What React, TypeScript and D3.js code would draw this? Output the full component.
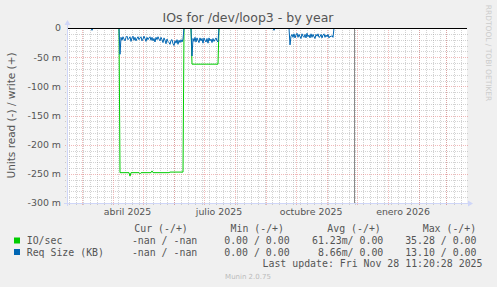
import React from "react";
import * as d3 from "d3";

const chartTitle = "IOs for /dev/loop3 - by year";
const yAxisTitle = "Units read (-) / write (+)";
const yTickValues = [0, -50, -100, -150, -200, -250, -300];
const monthLabelStarts = ["2025-04-01", "2025-07-01", "2025-10-01", "2026-01-01"];
const monthLabelTexts = ["abril 2025", "julio 2025", "octubre 2025", "enero 2026"];
const domainStart = "2025-02-14T12:00:00Z";
const domainEnd = "2026-03-21T12:00:00Z";
const nowMarker = "2025-11-28T11:20:28Z";

// IO/sec (read, shown negative), daily values in milli-units
const ioSegStarts = ["2025-04-08", "2025-06-19"];
const ioSegs = [
  [
    -248, -248, -248, -248, -248, -248, -248, -248, -248, -248,
    -254, -248, -248, -248, -248, -248, -248, -248, -248, -248,
    -250, -248, -248, -248, -248, -248, -248, -248, -248, -248,
    -248, -248, -245, -248, -248, -248, -248, -248, -248, -248,
    -248, -248, -248, -248, -248, -248, -248, -248, -248, -248,
    -247, -247, -247, -247, -247, -247, -247, -247, -247, -247,
    -247, -247, -247, -247,
  ],
  [
    -62, -62, -62, -62, -62, -62, -62, -62, -62, -62,
    -62, -62, -62, -62, -62, -62, -62, -62, -62, -62,
    -62, -62, -62, -62, -62, -62, -62,
  ],
];

// Req Size (KB) (read, shown negative), daily values in milli-units
const reqSegStarts = ["2025-03-11", "2025-04-08", "2025-06-19", "2025-09-09", "2025-09-25"];
const reqSegs = [
  [-4],
  [
    -45, -16, -21, -15, -19, -22, -16, -14, -20, -18,
    -15, -23, -17, -14, -21, -16, -22, -18, -15, -20,
    -17, -15, -22, -19, -14, -18, -23, -16, -20, -17,
    -15, -21, -16, -22, -18, -24, -16, -20, -15, -19,
    -22, -16, -20, -25, -17, -21, -27, -19, -23, -25,
    -28, -21, -20, -27, -30, -22, -26, -20, -28, -21,
    -25, -20, -24, -19,
  ],
  [
    -48, -18, -23, -16, -24, -17, -21, -25, -17, -22,
    -18, -26, -17, -21, -24, -18, -26, -17, -22, -19,
    -25, -18, -23, -20, -17, -22, -24,
  ],
  [-4],
  [
    -29, -14, -11, -16, -10, -17, -12, -9, -16, -11,
    -15, -18, -10, -14, -16, -11, -17, -9, -15, -12,
    -17, -10, -16, -11, -15, -18, -11, -14, -10, -16,
    -15, -11, -17, -12, -10, -16, -12, -15, -11, -17,
    -14, -15, -13, -16,
  ],
];

const legendNames = ["IO/sec", "Req Size (KB)"];
const legendHeaders = ["Cur (-/+)", "Min (-/+)", "Avg (-/+)", "Max (-/+)"];
const curVals = ["-nan / -nan", "-nan / -nan"];
const minVals = ["0.00 / 0.00", "0.00 / 0.00"];
const avgVals = ["61.23m/ 0.00", "8.66m/ 0.00"];
const maxVals = ["35.28 / 0.00", "13.10 / 0.00"];
const lastUpdate = "Last update: Fri Nov 28 11:20:28 2025";
const muninVersion = "Munin 2.0.75";
const watermark = "RRDTOOL / TOBI OETIKER";

const COLORS = ["#00CC00", "#0066B3"];
const W = 497, H = 287;
const L = 67, R = 467, T = 28, B = 203;
const DAY = 86400000;

function segPoints(start: string, vals: number[]): [Date, number][] {
  const t0 = new Date(start + "T12:00:00Z").getTime();
  const pts: [Date, number][] = [[new Date(t0 - DAY), 0]];
  vals.forEach((v, i) => pts.push([new Date(t0 + i * DAY), v]));
  pts.push([new Date(t0 + vals.length * DAY), 0]);
  return pts;
}

export default function App() {
  const x = d3.scaleUtc().domain([new Date(domainStart), new Date(domainEnd)]).range([L, R]);
  const y = d3.scaleLinear().domain([-300, 0]).range([B, T]);
  const line = d3.line<[Date, number]>().x((d) => x(d[0])).y((d) => y(d[1]));

  const minorY = d3.range(-300, 0, 10).filter((v) => v % 50 !== 0);
  const majorY = yTickValues.filter((v) => v !== 0);
  const weeks = d3.utcSunday.range(new Date(domainStart), new Date(domainEnd));
  const months = d3.utcMonth.range(new Date(domainStart), new Date(domainEnd));

  const gridMinor = "rgba(140,140,140,0.38)";
  const gridMajor = "rgba(225,100,100,0.45)";
  const axisColor = "#CFD6F8";
  const fontColor = "#555";
  const sans = "'DejaVu Sans', sans-serif";
  const mono = "'DejaVu Sans Mono', monospace";

  const legendRowsY = [244, 255.5];
  const valueEnds = [197.3, 289.6, 383.3, 476.5];
  const headerStarts = [134.3, 230.5, 327.3, 422.7];
  const valueCols = [curVals, minVals, avgVals, maxVals];

  return (
    <svg width={W} height={H} style={{ position: "absolute", left: 0, top: 0, background: "#F0F0F0" }}>
      <rect x={0} y={0} width={W} height={H} fill="#F0F0F0" />
      <rect x={L} y={T} width={R - L} height={B - T} fill="#FFFFFF" />
      <g shapeRendering="crispEdges">
        {minorY.map((v) => (
          <line key={"my" + v} x1={L - 2} x2={R + 1} y1={Math.round(y(v)) + 0.5} y2={Math.round(y(v)) + 0.5}
            stroke={gridMinor} strokeDasharray="1,1" />
        ))}
        {weeks.map((d, i) => (
          <line key={"wk" + i} x1={Math.round(x(d)) + 0.5} x2={Math.round(x(d)) + 0.5} y1={T} y2={B + 2}
            stroke={gridMinor} strokeDasharray="1,1" />
        ))}
        {majorY.map((v) => (
          <line key={"My" + v} x1={L - 2} x2={R + 1} y1={Math.round(y(v)) + 0.5} y2={Math.round(y(v)) + 0.5}
            stroke={gridMajor} strokeDasharray="1,1" />
        ))}
        {months.map((d, i) => (
          <line key={"mo" + i} x1={Math.round(x(d)) + 0.5} x2={Math.round(x(d)) + 0.5} y1={T} y2={B + 3}
            stroke={gridMajor} strokeDasharray="1,1" />
        ))}
      </g>
      <line x1={Math.round(x(new Date(nowMarker))) + 0.5} x2={Math.round(x(new Date(nowMarker))) + 0.5}
        y1={T} y2={B} stroke="#8a8a8a" strokeWidth={1} />
      {ioSegs.map((vals, i) => (
        <path key={"io" + i} d={line(segPoints(ioSegStarts[i], vals)) || ""} fill="none" stroke={COLORS[0]} strokeWidth={1} />
      ))}
      {reqSegs.map((vals, i) => (
        <path key={"rq" + i} d={line(segPoints(reqSegStarts[i], vals)) || ""} fill="none" stroke={COLORS[1]} strokeWidth={1} />
      ))}
      <line x1={L} x2={R} y1={y(0) + 0.5} y2={y(0) + 0.5} stroke="#000" strokeWidth={1} shapeRendering="crispEdges" />
      {/* axes */}
      <g shapeRendering="crispEdges">
        <line x1={L - 3} x2={R + 2} y1={B + 0.5} y2={B + 0.5} stroke={axisColor} />
        <line x1={L + 0.5} x2={L + 0.5} y1={B + 3} y2={T - 4} stroke={axisColor} />
      </g>
      <path d={`M${R + 1},${B - 2.5} L${R + 6},${B + 0.5} L${R + 1},${B + 3.5} Z`} fill={axisColor} />
      <path d={`M${L - 2.5},${T - 3} L${L + 0.5},${T - 8} L${L + 3.5},${T - 3} Z`} fill={axisColor} />
      {/* y tick labels */}
      {yTickValues.map((v) => (
        <text key={"yt" + v} x={61} y={y(v)} dy="0.36em" textAnchor="end" fontFamily={sans} fontSize={9.4} fill={fontColor}>
          {v === 0 ? "0" : `${v} m`}
        </text>
      ))}
      {/* month labels */}
      {monthLabelStarts.map((s, i) => {
        const d0 = new Date(s + "T00:00:00Z");
        const d1 = d3.utcMonth.offset(d0, 1);
        return (
          <text key={"ml" + i} x={(x(d0) + x(d1)) / 2} y={215} textAnchor="middle" fontFamily={sans} fontSize={9.4} fill={fontColor}>
            {monthLabelTexts[i]}
          </text>
        );
      })}
      <text x={248} y={22} textAnchor="middle" fontFamily={sans} fontSize={12.5} fill={fontColor}>{chartTitle}</text>
      <text transform={`translate(14.5,${(T + B) / 2}) rotate(-90)`} textAnchor="middle" fontFamily={sans} fontSize={10.5} fill={fontColor}>
        {yAxisTitle}
      </text>
      <text transform={`translate(485.5,53) rotate(90)`} textAnchor="middle" fontFamily={sans} fontSize={7.5} fill="#cccccc">
        {watermark}
      </text>
      {/* legend */}
      {legendHeaders.map((h, i) => (
        <text key={"lh" + i} x={headerStarts[i]} y={232} fontFamily={mono} fontSize={9.9} fill={fontColor} style={{ whiteSpace: "pre" }}>{h}</text>
      ))}
      {legendNames.map((n, r) => (
        <g key={"lr" + r}>
          <rect x={14} y={legendRowsY[r] - 6.5} width={6} height={6} fill={COLORS[r]} />
          <text x={26.7} y={legendRowsY[r]} fontFamily={mono} fontSize={9.9} fill={fontColor} style={{ whiteSpace: "pre" }}>{n}</text>
          {valueCols.map((col, c) => (
            <text key={"v" + c} x={valueEnds[c]} y={legendRowsY[r]} textAnchor="end" fontFamily={mono} fontSize={9.9} fill={fontColor} style={{ whiteSpace: "pre" }}>{col[r]}</text>
          ))}
        </g>
      ))}
      <text x={482.5} y={267} textAnchor="end" fontFamily={mono} fontSize={9.9} fill={fontColor} style={{ whiteSpace: "pre" }}>{lastUpdate}</text>
      <text x={248} y={278.5} textAnchor="middle" fontFamily={sans} fontSize={7} fill="#bbbbbb">{muninVersion}</text>
    </svg>
  );
}
